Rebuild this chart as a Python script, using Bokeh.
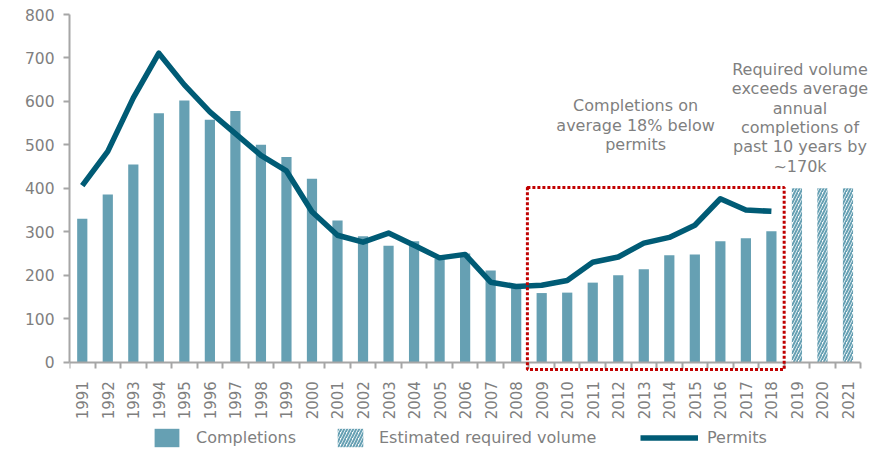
import math
from bokeh.plotting import figure
from bokeh.models import (Range1d, FixedTicker, Legend, LegendItem, BoxAnnotation,
                          Label, ColumnDataSource)
from bokeh.embed import file_html
from bokeh.resources import INLINE

years = list(range(1991, 2022))
completion_years = list(range(1991, 2019))
completions = [330, 386, 455, 573, 602, 558, 578, 500, 472, 422, 326, 290, 268, 278,
               238, 250, 211, 174, 159, 160, 183, 200, 214, 246, 248, 278, 285, 301]
required_years = [2019, 2020, 2021]
required = [400, 400, 400]
permits = [406, 485, 608, 711, 638, 576, 526, 476, 440, 346, 292, 276, 297, 269,
           240, 248, 184, 174, 177, 188, 230, 242, 274, 287, 315, 376, 350, 347]

y_ticks = [0, 100, 200, 300, 400, 500, 600, 700, 800]

note1 = ["Completions on", "average 18% below", "permits"]
note2 = ["Required volume", "exceeds average", "annual", "completions of",
         "past 10 years by", "~170k"]

BAR = "#66a0b3"
LINE = "#005b75"
GRAY = "#7f7f7f"
AXIS = "#a6a6a6"
FONT = "DejaVu Sans"

p = figure(width=887, height=449, output_backend="svg", toolbar_location=None,
           min_border_left=69, min_border_right=14, min_border_top=14, min_border_bottom=0,
           x_range=Range1d(1990.5, 2022.0), y_range=Range1d(-201, 800))
p.outline_line_color = None
p.xgrid.grid_line_color = None
p.ygrid.grid_line_color = None
p.background_fill_color = "white"
p.border_fill_color = "white"

src_c = ColumnDataSource(dict(x=completion_years, top=completions))
src_r = ColumnDataSource(dict(x=required_years, top=required))
src_p = ColumnDataSource(dict(x=completion_years, y=permits))

r_c = p.vbar(x="x", top="top", bottom=0, width=0.4, source=src_c, fill_color=BAR,
             line_color=None)
r_r = p.vbar(x="x", top="top", bottom=0, width=0.4, source=src_r, fill_color="white",
             line_color=None, hatch_pattern="/", hatch_color=BAR, hatch_scale=6,
             hatch_weight=2.0)
r_p = p.line(x="x", y="y", source=src_p, line_color=LINE, line_width=5.5, line_join="round")

# red dotted box
box = BoxAnnotation(left=2008.44, right=2018.5, bottom=-17, top=402,
                    fill_alpha=0, fill_color=None, line_color="#c00000", line_alpha=1,
                    line_width=3, line_dash="3 2")
p.add_layout(box)

# axes
xa = p.xaxis[0]
xa.fixed_location = 0
xa.bounds = (1990.5, 2021.5)
xa.ticker = FixedTicker(ticks=years, minor_ticks=[y - 0.5 for y in years] + [2021.5])
xa.major_tick_line_color = None
xa.major_tick_out = 0
xa.major_tick_in = 0
xa.minor_tick_line_color = AXIS
xa.minor_tick_out = 6
xa.minor_tick_in = 0
xa.minor_tick_line_width = 2
xa.axis_line_color = AXIS
xa.axis_line_width = 2
xa.major_label_orientation = math.pi / 2
xa.major_label_text_font = FONT
xa.major_label_text_font_size = "15px"
xa.major_label_text_color = GRAY
xa.major_label_standoff = 13

ya = p.yaxis[0]
ya.bounds = (0, 800)
ya.ticker = FixedTicker(ticks=y_ticks)
ya.minor_tick_line_color = None
ya.major_tick_line_color = AXIS
ya.major_tick_line_width = 2
ya.major_tick_out = 6
ya.major_tick_in = 0
ya.axis_line_color = AXIS
ya.axis_line_width = 2
ya.major_label_text_font = FONT
ya.major_label_text_font_size = "15.5px"
ya.major_label_text_color = GRAY
ya.major_label_standoff = 9

# annotations
def add_note(lines, x, y_first, step):
    for i, t in enumerate(lines):
        p.add_layout(Label(x=x, y=y_first - i * step, text=t, text_align="center",
                           text_baseline="middle", text_font=FONT,
                           text_font_size="16px", text_color=GRAY))

add_note(note1, 2012.68, 590, 44.5)
add_note(note2, 2019.12, 674, 44.6)

# legends
def add_legend(label, renderer, x, gw, standoff):
    lg = Legend(items=[LegendItem(label=label, renderers=[renderer])],
                location=(x, 0), orientation="horizontal",
                glyph_width=gw, glyph_height=23, label_standoff=standoff,
                padding=0, margin=0, border_line_color=None,
                background_fill_alpha=0, label_text_font=FONT,
                label_text_font_size="16px", label_text_color=GRAY,
                label_height=23)
    p.add_layout(lg)

add_legend("Completions", r_c, 82, 31, 14)
add_legend("Estimated required volume", r_r, 265, 32, 13)
add_legend("Permits", r_p, 571, 58, 9)

open("out.html", "w").write(file_html(p, INLINE))
